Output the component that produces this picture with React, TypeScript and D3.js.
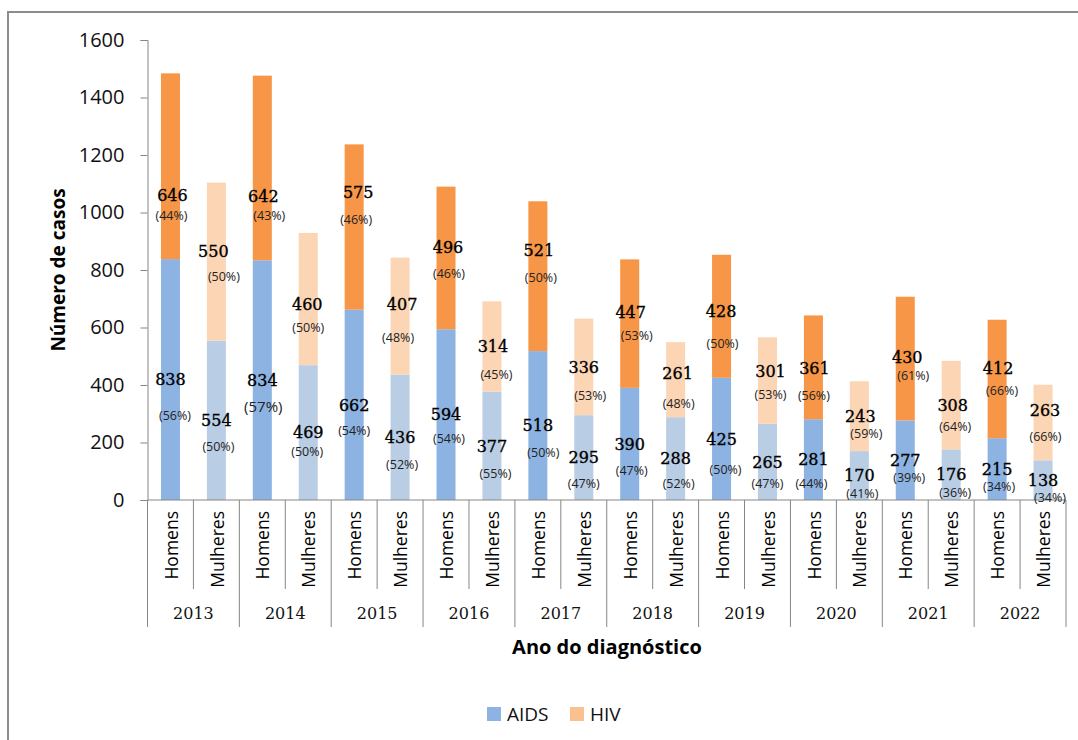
import React, { useEffect, useRef } from 'react';
import * as d3 from 'd3';

// Casos por ano do diagnóstico e sexo
const years = ['2013', '2014', '2015', '2016', '2017', '2018', '2019', '2020', '2021', '2022'];
const sexes = ['Homens', 'Mulheres'];

const aidsHomens = [838, 834, 662, 594, 518, 390, 425, 281, 277, 215];
const hivHomens = [646, 642, 575, 496, 521, 447, 428, 361, 430, 412];
const aidsMulheres = [554, 469, 436, 377, 295, 288, 265, 170, 176, 138];
const hivMulheres = [550, 460, 407, 314, 336, 261, 301, 243, 308, 263];

const pctAidsHomens = [56, 57, 54, 54, 50, 47, 50, 44, 39, 34];
const pctHivHomens = [44, 43, 46, 46, 50, 53, 50, 56, 61, 66];
const pctAidsMulheres = [50, 50, 52, 55, 47, 52, 47, 41, 36, 34];
const pctHivMulheres = [50, 50, 48, 45, 53, 48, 53, 59, 64, 66];

const yTicks = [0, 200, 400, 600, 800, 1000, 1200, 1400, 1600];

// label fine-tuning (px), one per bar: 2013 H, 2013 M, 2014 H, ...
const aidsPctNudge = [[4.5, 36], [2, 26], [1, 26], [-1, 19], [0, 26], [2, 27], [3, 24], [3.5, 28], [5.5, 27], [0, 26],
    [2, 27], [3, 25], [4, 31], [0, 22], [-2, 24], [3, 17.5], [4, 17.5], [4, 17.5], [2, 17.5], [7, 17]];
const hivNumNudge = [[2, 29.5], [-3, -10], [1, 28], [-1, 5], [4, -35], [2, -12], [2, -10.5], [1, 0], [1, -25.5], [0, 0],
    [1, -11], [2, -6], [-0.5, -5.5], [3, -9.5], [1, 1], [1, 0], [2, -1], [1.5, 0], [1, -11], [2, -12]];
const hivPctNudge = [[1, 20], [7.5, 25], [7, 20], [0, 23], [2, 27], [-2, 33], [3, 26], [4.5, 28], [3, 27], [6.5, 29],
    [7, 23], [3, 30], [1, 33], [3, 23], [0.5, 27], [7, 17.5], [8, 17.5], [4, 21], [5, 23], [2.5, 26]];

const colors = {
    Homens: { aids: '#8DB3E2', hiv: '#F79646' },
    Mulheres: { aids: '#B9CDE5', hiv: '#FCD5B5' }
};

const W = 1078;
const H = 740;

const sansFont = '"Open Sans", "Noto Sans", sans-serif';
const serifFont = '"DejaVu Serif", serif';

const App: React.FC = () => {
    const svgRef = useRef<SVGSVGElement>(null);

    useEffect(() => {
        const svg = d3.select(svgRef.current);
        svg.selectAll('*').remove();

        const plot = { left: 147.5, right: 1066, top: 40, bottom: 500 };
        const axisColor = '#868686';

        const rows = years.flatMap((year, i) => [
            { key: `${year}-H`, year, sex: sexes[0], aids: aidsHomens[i], hiv: hivHomens[i], pa: pctAidsHomens[i], ph: pctHivHomens[i] },
            { key: `${year}-M`, year, sex: sexes[1], aids: aidsMulheres[i], hiv: hivMulheres[i], pa: pctAidsMulheres[i], ph: pctHivMulheres[i] }
        ]);

        const x = d3.scaleBand()
            .domain(rows.map(d => d.key))
            .range([plot.left, plot.right])
            .padding(0);

        const y = d3.scaleLinear()
            .domain([0, 1600])
            .range([plot.bottom, plot.top]);

        const barW = x.bandwidth() * 0.414;
        const cx = (k: string) => (x(k) || 0) + x.bandwidth() / 2;

        // frame
        svg.append('rect')
            .attr('x', 8).attr('y', 12)
            .attr('width', W + 40).attr('height', H + 40)
            .attr('fill', '#fff')
            .attr('stroke', '#8c8c8c')
            .attr('stroke-width', 2);

        // bars
        const g = svg.append('g');
        g.selectAll('.aids')
            .data(rows)
            .enter()
            .append('rect')
            .attr('x', d => cx(d.key) - barW / 2)
            .attr('y', d => y(d.aids))
            .attr('width', barW)
            .attr('height', d => y(0) - y(d.aids))
            .attr('fill', d => colors[d.sex as 'Homens'].aids);

        g.selectAll('.hiv')
            .data(rows)
            .enter()
            .append('rect')
            .attr('x', d => cx(d.key) - barW / 2)
            .attr('y', d => y(d.aids + d.hiv))
            .attr('width', barW)
            .attr('height', d => y(d.aids) - y(d.aids + d.hiv))
            .attr('fill', d => colors[d.sex as 'Homens'].hiv);

        // y axis
        const yAxis = svg.append('g')
            .attr('transform', `translate(${plot.left},0)`)
            .call(d3.axisLeft(y).tickValues(yTicks).tickFormat(d3.format('d')).tickSize(7).tickPadding(16));
        yAxis.select('.domain').attr('stroke', axisColor);
        yAxis.selectAll('.tick line').attr('stroke', axisColor);
        yAxis.selectAll('text')
            .style('font-family', sansFont)
            .style('font-size', '20px')
            .style('fill', '#111');

        // x axis line
        svg.append('line')
            .attr('x1', plot.left).attr('x2', plot.right)
            .attr('y1', plot.bottom).attr('y2', plot.bottom)
            .attr('stroke', axisColor);

        // separators: short between sexes, long between years
        const bounds = rows.map((d, i) => ({ x: x(d.key) || 0, long: i % 2 === 0 }));
        bounds.push({ x: plot.right, long: true });
        svg.selectAll('.sep')
            .data(bounds)
            .enter()
            .append('line')
            .attr('x1', d => d.x).attr('x2', d => d.x)
            .attr('y1', plot.bottom)
            .attr('y2', d => d.long ? 627 : 589)
            .attr('stroke', axisColor);

        // sex labels
        svg.selectAll('.sex')
            .data(rows)
            .enter()
            .append('text')
            .attr('transform', d => `translate(${cx(d.key) + 1},511) rotate(-90)`)
            .attr('text-anchor', 'end')
            .attr('dy', '0.35em')
            .style('font-family', sansFont)
            .style('font-size', '17.5px')
            .style('fill', '#000')
            .text(d => d.sex);

        // year labels
        svg.selectAll('.year')
            .data(years)
            .enter()
            .append('text')
            .attr('x', d => (x(`${d}-H`) || 0) + x.bandwidth())
            .attr('y', 613)
            .attr('text-anchor', 'middle')
            .attr('dy', '0.35em')
            .style('font-family', serifFont)
            .style('font-size', '16px')
            .style('fill', '#111')
            .text(d => d);

        // value labels
        const num = (sel: d3.Selection<SVGTextElement, any, any, any>) => sel
            .attr('text-anchor', 'middle')
            .attr('dy', '0.36em')
            .style('font-family', serifFont)
            .style('font-size', '16px')
            .style('fill', '#000')
            .style('stroke', '#000')
            .style('stroke-width', 0.35);
        const pct = (sel: d3.Selection<SVGTextElement, any, any, any>) => sel
            .attr('text-anchor', 'middle')
            .attr('dy', '0.36em')
            .style('font-family', sansFont)
            .style('font-size', '12.5px')
            .style('fill', '#222');

        const labels = svg.append('g');
        rows.forEach((d, i) => {
            const c = cx(d.key);
            const aidsY = y(d.aids / 2);
            labels.append('text').attr('x', c).attr('y', aidsY).call(num).text(d.aids);
            labels.append('text')
                .attr('x', c + aidsPctNudge[i][0])
                .attr('y', aidsY + aidsPctNudge[i][1])
                .call(pct)
                .style('font-size', i === 2 ? '15px' : '12.5px')
                .text(`(${d.pa}%)`);

            const hivY = y(d.aids + d.hiv / 2) + hivNumNudge[i][1];
            labels.append('text').attr('x', c + hivNumNudge[i][0]).attr('y', hivY).call(num).text(d.hiv);
            labels.append('text')
                .attr('x', c + hivPctNudge[i][0])
                .attr('y', hivY + hivPctNudge[i][1])
                .call(pct)
                .text(`(${d.ph}%)`);
        });

        // axis titles
        svg.append('text')
            .attr('transform', `translate(58,${(plot.top + plot.bottom) / 2}) rotate(-90)`)
            .attr('text-anchor', 'middle')
            .attr('dy', '0.35em')
            .style('font-family', sansFont)
            .style('font-size', '19px')
            .style('font-weight', 'bold')
            .style('fill', '#000')
            .text('Número de casos');

        svg.append('text')
            .attr('x', 607)
            .attr('y', 647)
            .attr('text-anchor', 'middle')
            .attr('dy', '0.35em')
            .style('font-family', sansFont)
            .style('font-size', '20px')
            .style('font-weight', 'bold')
            .style('fill', '#000')
            .text('Ano do diagnóstico');

        // legend
        const legendItems = [
            { name: 'AIDS', color: '#8DB3E2', x: 487 },
            { name: 'HIV', color: '#FAC090', x: 570 }
        ];
        const legend = svg.append('g');
        legendItems.forEach(item => {
            legend.append('rect')
                .attr('x', item.x).attr('y', 707)
                .attr('width', 14).attr('height', 14)
                .attr('fill', item.color);
            legend.append('text')
                .attr('x', item.x + 20)
                .attr('y', 714)
                .attr('dy', '0.35em')
                .style('font-family', sansFont)
                .style('font-size', '19px')
                .style('fill', '#111')
                .text(item.name);
        });
    }, []);

    return (
        <svg
            ref={svgRef}
            width={W}
            height={H}
            style={{ position: 'absolute', left: 0, top: 0, background: '#fff' }}
        />
    );
};

export default App;
